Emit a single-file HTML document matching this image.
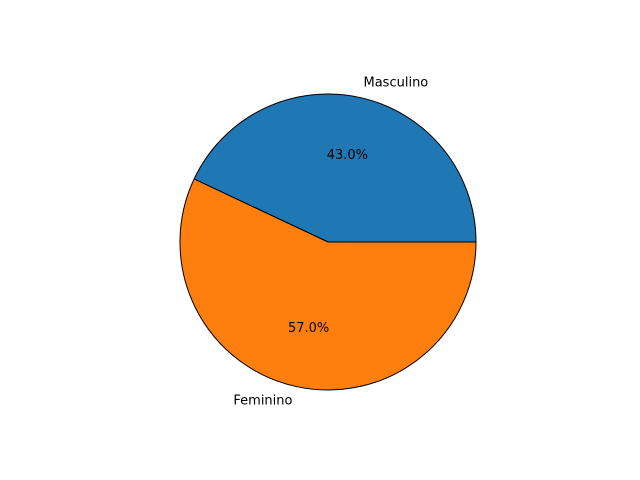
<!DOCTYPE html>
<html><head><meta charset="utf-8"><style>
body{margin:0;background:#fff}
svg{display:block;font-family:"DejaVu Sans","Liberation Sans",sans-serif}
</style></head><body>
<svg id="chart" width="640" height="480" viewBox="0 0 640 480">
<rect width="640" height="480" fill="#fff"/>
<g id="slices"></g>
<g id="labels"></g>
</svg>
<script>
const categories = ["Masculino", "Feminino"];
const values = [43, 57];
const colors = ["#1f77b4", "#ff7f0e"];
const cx = 328, cy = 242, r = 148;
const ns = "http://www.w3.org/2000/svg";
const total = values.reduce((a, b) => a + b, 0);
const sg = document.getElementById("slices"), lg = document.getElementById("labels");
let a0 = 0;
function pt(a, rr) { const t = a * Math.PI / 180; return [cx + rr * Math.cos(t), cy - rr * Math.sin(t)]; }
values.forEach((v, i) => {
  const sweep = v / total * 360, a1 = a0 + sweep;
  const p0 = pt(a0, r), p1 = pt(a1, r);
  const path = document.createElementNS(ns, "path");
  path.setAttribute("d", `M${cx},${cy} L${p0[0]},${p0[1]} A${r},${r} 0 ${sweep > 180 ? 1 : 0} 0 ${p1[0]},${p1[1]} Z`);
  path.setAttribute("fill", colors[i]);
  path.setAttribute("stroke", "#000");
  path.setAttribute("stroke-width", "1");
  
  
  sg.appendChild(path);
  const mid = a0 + sweep / 2;
  const lp = pt(mid, r * 1.1);
  const t = document.createElementNS(ns, "text");
  t.setAttribute("x", lp[0]); t.setAttribute("y", lp[1]);
  t.setAttribute("font-size", "13"); t.setAttribute("dominant-baseline", "middle");
  t.setAttribute("text-anchor", Math.cos(mid * Math.PI / 180) >= 0 ? "start" : "end");
  t.textContent = categories[i];
  
  
  lg.appendChild(t);
  const pp = pt(mid, r * 0.6);
  const p = document.createElementNS(ns, "text");
  p.setAttribute("x", pp[0]); p.setAttribute("y", pp[1]);
  p.setAttribute("font-size", "13"); p.setAttribute("dominant-baseline", "middle");
  p.setAttribute("text-anchor", "middle");
  p.textContent = (v / total * 100).toFixed(1) + "%";
  
  
  lg.appendChild(p);
  a0 = a1;
});
</script>
</body></html>
